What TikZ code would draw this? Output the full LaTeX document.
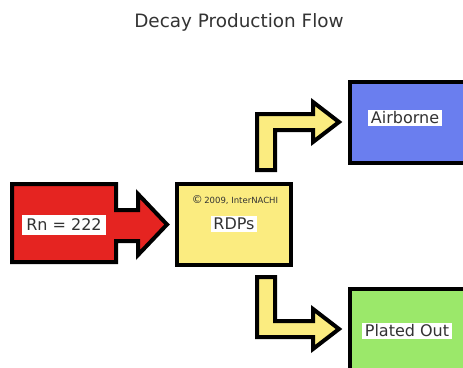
\documentclass[tikz,border=0pt]{standalone}
\usepackage{fontspec}
\setmainfont{DejaVu Sans}
\usetikzlibrary{calc}
\definecolor{txt}{HTML}{333333}
\definecolor{rnred}{HTML}{E52421}
\definecolor{rdpyellow}{HTML}{FBEC80}
\definecolor{airblue}{HTML}{6A7EEF}
\definecolor{platgreen}{HTML}{9BE86A}
\tikzset{
  outline/.style={draw=black, line width=4pt, line join=miter, miter limit=10},
  boxnode/.style={outline, rectangle, inner sep=0pt},
  lbl/.style={fill=white, text=txt, font=\fontsize{16}{19}\selectfont, inner xsep=3pt, inner ysep=2pt},
  blockarrow/.style={outline, fill=rdpyellow}
}
\begin{document}
\begin{tikzpicture}[x=1pt,y=-1pt]
\clip (0,0) rectangle (463,367);
\fill[white] (0,0) rectangle (463,367);
% title
\node[text=txt, font=\fontsize{18.4}{21}\selectfont] (title) at (239,22) {Decay Production Flow};
% boxes
\node[boxnode, fill=rdpyellow, minimum width=114pt, minimum height=81pt] (rdp) at (234,224.5) {};
\node[boxnode, fill=airblue, minimum width=140pt, minimum height=81pt] (air) at (420,122.5) {};
\node[boxnode, fill=platgreen, minimum width=140pt, minimum height=100pt] (plat) at (420,339) {};
% red source box with its arrow (one outline)
\coordinate (rntip) at ($(rdp.west)+(-8,0)$);
\draw[outline, fill=rnred] (12,184) -- (116,184) -- (116,210) -- (138,210) -- (138,194)
  -- (rntip) -- (138,255) -- (138,241) -- (116,241)
  -- (116,262) -- (12,262) -- cycle;
% bent arrows
\draw[blockarrow] (257,170) -- (257,114) -- (313,114) -- (313,102) -- (339,122)
  -- (313,142) -- (313,130) -- (275,130) -- (275,170) -- cycle;
\draw[blockarrow] (257,277) -- (275,277) -- (275,321) -- (313,321) -- (313,309)
  -- (339,329) -- (313,349) -- (313,337) -- (257,337) -- cycle;
% labels
\node[lbl, inner xsep=4pt, inner ysep=4pt] (rnlbl) at (64,225) {Rn = 222};
\node[lbl, inner xsep=2pt] (rdplbl) at (234,224) {RDPs};
\node[text=txt, font=\fontsize{8.5}{10}\selectfont, inner sep=0pt] (copy) at (235,200)
  {{\fontsize{11}{11}\selectfont ©}\,2009, InterNACHI};
\node[lbl] (airlbl) at (405,118) {Airborne};
\node[lbl, inner ysep=1.5pt] (platlbl) at (407,331) {Plated Out};
\end{tikzpicture}
\end{document}
